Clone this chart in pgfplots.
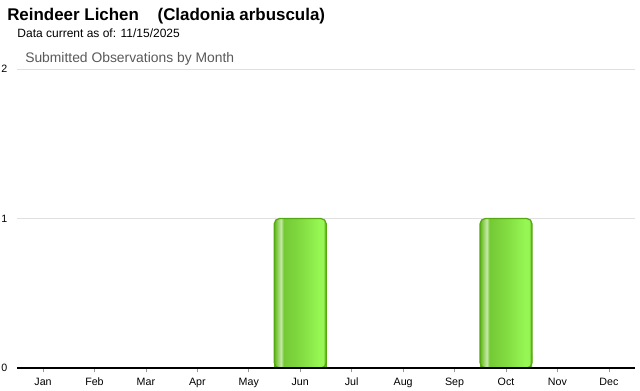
\documentclass[border=0pt]{standalone}
\usepackage{pgfplots}
\pgfplotsset{compat=1.18}
\usepackage{fontspec}
\setmainfont{Liberation Sans}
\definecolor{gA}{HTML}{5DB318}
\definecolor{gB}{HTML}{86CC4E}
\definecolor{gH}{HTML}{C6E8A8}
\definecolor{gC}{HTML}{74C935}
\definecolor{gD}{HTML}{96F653}
\definecolor{gE}{HTML}{58AC12}
\definecolor{barborder}{HTML}{55A810}
\pgfdeclarehorizontalshading{barshade}{100bp}{
 color(0bp)=(gA); color(25bp)=(gA); color(27.5bp)=(gB); color(31.5bp)=(gH);
 color(34bp)=(gC); color(50bp)=(gC!60!gD); color(68bp)=(gD); color(72bp)=(gD);
 color(75bp)=(gE); color(100bp)=(gE)}
\pgfplotsset{
  lowbar/.style={ybar, bar width=39pt, bar shift=0pt, draw=none, shading=barshade},
  mainbar/.style={ybar, bar width=39pt, bar shift=0pt, draw=barborder, line width=0.9pt,
    shading=barshade, rounded corners=4pt},
}
\begin{document}
\begin{tikzpicture}
\begin{axis}[
  at={(12.98pt,16.5pt)}, anchor=south west,
  scale only axis, width=463pt, height=224.25pt,
  xmin=0.5, xmax=12.5, ymin=0, ymax=2,
  xtick={1,...,12},
  xticklabels={Jan,Feb,Mar,Apr,May,Jun,Jul,Aug,Sep,Oct,Nov,Dec},
  ytick={0,1,2},
  axis x line*=bottom, axis y line*=left,
  x axis line style={-, black, line width=1pt},
  y axis line style={draw=none},
  ymajorgrids, grid style={color=black!12, line width=0.6pt},
  major tick length=3pt,
  xtick style={color=black!40, line width=0.5pt},
  tick align=outside,
  ytick style={draw=none},
  tick label style={font=\fontsize{8pt}{9pt}\selectfont, text=black},
  xticklabel style={yshift=-1pt},
  yticklabel style={xshift=-1pt},
  /pgf/number format/assume math mode=true,
  clip=false,
]
\addplot[lowbar] coordinates {(6,0.1)};
\addplot[lowbar] coordinates {(10,0.1)};
\addplot[mainbar] coordinates {(6,1)};
\addplot[mainbar] coordinates {(10,1)};
\draw[black, line width=1pt] (axis cs:0.5,0) -- (axis cs:12.5,0);
\end{axis}
\node[anchor=base west, inner sep=0pt, font=\bfseries\fontsize{12.7pt}{14pt}\selectfont] at (5.25pt,276.9pt) {Reindeer Lichen\hspace{1.1em}(Cladonia arbuscula)};
\node[anchor=base west, inner sep=0pt, font=\fontsize{9pt}{10pt}\selectfont] at (12.9pt,264.2pt) {Data current as of: 11/15/2025};
\node[anchor=base west, inner sep=0pt, font=\fontsize{10.4pt}{12pt}\selectfont, text=black!65] at (18.75pt,245.6pt) {Submitted Observations by Month};
\pgfresetboundingbox
\path (0,0) rectangle (480pt,292.5pt);
\end{tikzpicture}
\end{document}
